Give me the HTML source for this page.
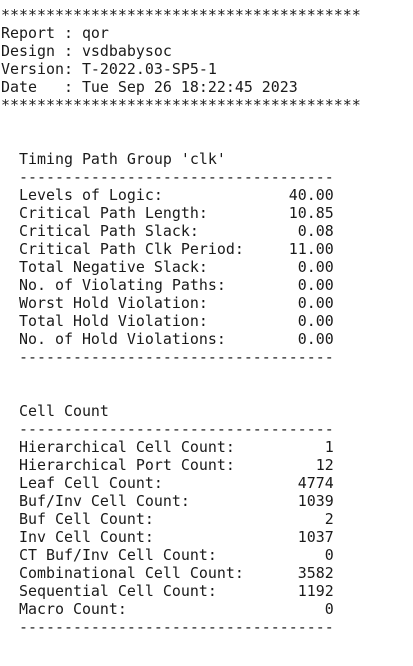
<!DOCTYPE html>
<html><head><meta charset="utf-8">
<style>
html,body{margin:0;padding:0;background:#fff;width:413px;height:666px;overflow:hidden}
pre{margin:0;position:absolute;left:1px;top:6px;font-family:"DejaVu Sans Mono","Liberation Mono",monospace;font-size:14.95px;line-height:18px;color:#1a1a1a}
</style></head>
<body>
<pre id="rep"></pre>
<script>
var stars = "****************************************";
var dash = "  -----------------------------------";
var timingLabels = ["Levels of Logic:","Critical Path Length:","Critical Path Slack:","Critical Path Clk Period:","Total Negative Slack:","No. of Violating Paths:","Worst Hold Violation:","Total Hold Violation:","No. of Hold Violations:"];
var timingValues = ["40.00","10.85","0.08","11.00","0.00","0.00","0.00","0.00","0.00"];
var cellLabels = ["Hierarchical Cell Count:","Hierarchical Port Count:","Leaf Cell Count:","Buf/Inv Cell Count:","Buf Cell Count:","Inv Cell Count:","CT Buf/Inv Cell Count:","Combinational Cell Count:","Sequential Cell Count:","Macro Count:"];
var cellValues = ["1","12","4774","1039","2","1037","0","3582","1192","0"];
function row(l,v){var s="  "+l;while(s.length+v.length<37)s+=" ";return s+v;}
var lines=[stars,"Report : qor","Design : vsdbabysoc","Version: T-2022.03-SP5-1","Date   : Tue Sep 26 18:22:45 2023",stars,"","","  Timing Path Group 'clk'",dash];
for(var i=0;i<timingLabels.length;i++)lines.push(row(timingLabels[i],timingValues[i]));
lines.push(dash,"","","  Cell Count",dash);
for(var j=0;j<cellLabels.length;j++)lines.push(row(cellLabels[j],cellValues[j]));
lines.push(dash);
document.getElementById("rep").textContent=lines.join("\n");
</script>
</body></html>
